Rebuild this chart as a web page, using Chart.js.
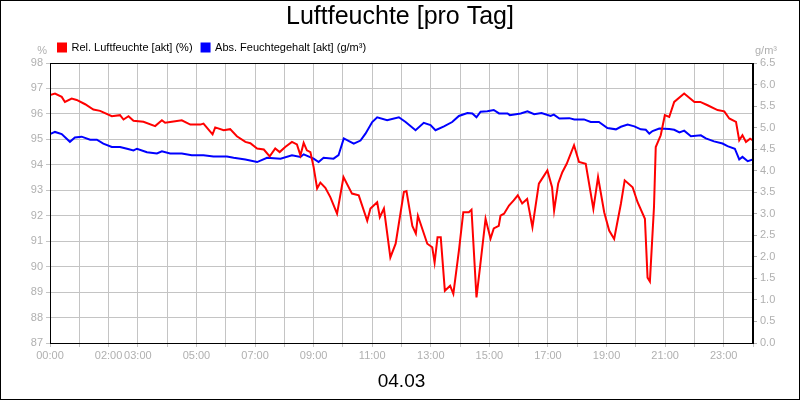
<!DOCTYPE html>
<html>
<head>
<meta charset="utf-8">
<script src="https://cdn.jsdelivr.net/npm/chart.js@4/dist/chart.umd.min.js"></script>
<style>
body{margin:0;background:#fff;}
#box{width:800px;height:400px;box-sizing:border-box;border:1px solid #000;}
</style>
</head>
<body>
<div id="box"><canvas id="humChart" width="798" height="398"></canvas></div>
<script>
// hours of the day with a label on the x axis
const labelHours = [0, 2, 3, 5, 7, 9, 11, 13, 15, 17, 19, 21, 23];

// relative humidity (%), left axis
const relTimes = [0,0.17,0.4,0.51,0.74,0.91,1.2,1.48,1.71,2.11,2.39,2.51,2.68,2.85,3.19,3.59,3.82,3.93,4.16,4.5,4.79,5.13,5.24,5.55,5.64,5.93,6.15,6.38,6.67,6.84,7.07,7.3,7.5,7.69,7.84,8.03,8.26,8.43,8.55,8.66,8.77,8.89,9.0,9.12,9.23,9.4,9.57,9.8,10.02,10.31,10.54,10.83,10.94,11.17,11.26,11.4,11.62,11.8,12.08,12.17,12.37,12.49,12.56,12.88,13.05,13.13,13.23,13.34,13.48,13.66,13.77,13.96,14.11,14.3,14.39,14.56,14.68,14.87,15.04,15.15,15.32,15.38,15.5,15.67,15.83,15.97,16.12,16.29,16.47,16.69,16.98,17.14,17.21,17.35,17.49,17.64,17.89,18.06,18.29,18.55,18.71,18.92,19.09,19.26,19.49,19.62,19.89,20.06,20.31,20.4,20.48,20.62,20.68,20.85,20.99,21.14,21.31,21.65,22.0,22.2,22.45,22.79,23.02,23.19,23.42,23.53,23.64,23.76,23.9,24];
const relValues = [96.74,96.8,96.67,96.47,96.6,96.55,96.38,96.17,96.12,95.91,95.95,95.78,95.91,95.73,95.69,95.52,95.75,95.65,95.69,95.75,95.58,95.58,95.62,95.2,95.47,95.36,95.4,95.12,94.9,94.85,94.64,94.6,94.33,94.64,94.5,94.7,94.9,94.8,94.37,94.86,94.57,94.5,93.91,93.07,93.3,93.1,92.73,92.08,93.52,92.87,92.8,91.8,92.28,92.53,91.94,92.28,90.36,90.9,92.93,92.97,91.6,91.3,92.0,90.9,90.76,90.16,91.15,91.15,89.05,89.25,88.93,90.63,92.14,92.14,92.24,88.79,89.97,91.88,91.1,91.5,91.6,92.0,92.08,92.4,92.6,92.8,92.48,92.66,91.55,93.26,93.78,93.12,92.2,93.27,93.71,94.04,94.77,94.11,94.04,92.27,93.52,92.14,91.42,91.09,92.47,93.39,93.12,92.53,91.88,89.57,89.42,92.34,94.7,95.16,95.95,95.88,96.47,96.8,96.47,96.47,96.34,96.15,96.1,95.82,95.69,94.96,95.16,94.9,95.03,94.96];

// absolute humidity (g/m³), right axis
const absTimes = [0,0.17,0.4,0.68,0.85,1.08,1.37,1.6,1.82,2.11,2.39,2.63,2.85,2.97,3.31,3.65,3.82,4.1,4.5,4.84,5.24,5.58,6.04,6.27,6.67,7.07,7.41,7.87,8.26,8.55,8.66,9.0,9.17,9.34,9.68,9.85,10.03,10.37,10.6,10.77,11.0,11.17,11.51,11.91,12.14,12.48,12.76,12.99,13.16,13.45,13.73,13.96,14.25,14.42,14.56,14.7,14.93,15.15,15.33,15.62,15.7,16.07,16.3,16.53,16.78,17.09,17.2,17.39,17.73,17.9,18.23,18.46,18.74,19.03,19.32,19.49,19.72,19.95,20.17,20.34,20.46,20.57,20.8,21.14,21.31,21.49,21.65,21.88,22.22,22.39,22.67,22.96,23.13,23.38,23.53,23.64,23.82,24];
const absValues = [4.85,4.9,4.85,4.67,4.77,4.79,4.72,4.72,4.63,4.55,4.55,4.51,4.47,4.51,4.43,4.4,4.45,4.4,4.4,4.36,4.36,4.33,4.33,4.3,4.26,4.2,4.3,4.28,4.36,4.32,4.38,4.28,4.2,4.3,4.28,4.36,4.75,4.63,4.7,4.86,5.13,5.24,5.17,5.24,5.13,4.94,5.11,5.06,4.94,5.03,5.13,5.27,5.34,5.33,5.24,5.37,5.38,5.41,5.33,5.33,5.29,5.33,5.38,5.31,5.34,5.27,5.3,5.21,5.22,5.19,5.19,5.13,5.13,4.99,4.96,5.02,5.07,5.03,4.96,4.95,4.86,4.92,4.98,4.97,4.95,4.89,4.93,4.8,4.82,4.75,4.68,4.63,4.57,4.51,4.26,4.32,4.22,4.26];

const toPoints = (xs, ys) => xs.map((x, i) => ({x: x, y: ys[i]}));
const hh = h => String(h).padStart(2, '0') + ':00';
const grey = '#b0b0b0';
const font = {family: 'Liberation Sans, Arial, sans-serif', size: 11};

// axis unit captions above the two y axes and the plot frame
const extras = {
    id: 'extras',
    afterLayout(chart){
        chart.legend.left += 48;   // legend starts over the plot, not at the edge
    },
    afterDraw(chart){
        const c = chart.ctx, a = chart.chartArea;
        c.save();
        c.font = '11px Liberation Sans, Arial, sans-serif';
        c.fillStyle = grey;
        c.textAlign = 'right';
        c.fillText('%', a.left - 3, a.top - 12);
        c.textAlign = 'left';
        c.fillText('g/m³', a.right + 2, a.top - 12);
        c.strokeStyle = '#000';
        c.lineWidth = 1;
        c.strokeRect(a.left + 0.5, a.top + 0.5, a.right - a.left - 1, a.bottom - a.top);
        c.restore();
    }
};

new Chart(document.getElementById('humChart'), {
    type: 'line',
    data: {
        datasets: [{
            label: 'Rel. Luftfeuchte [akt] (%)',
            data: toPoints(relTimes, relValues),
            borderColor: '#ff0000',
            backgroundColor: '#ff0000',
            borderWidth: 2,
            pointRadius: 0,
            yAxisID: 'y'
        }, {
            label: 'Abs. Feuchtegehalt [akt] (g/m³)',
            data: toPoints(absTimes, absValues),
            borderColor: '#0000ff',
            backgroundColor: '#0000ff',
            borderWidth: 2,
            pointRadius: 0,
            yAxisID: 'y1'
        }]
    },
    options: {
        responsive: false,
        animation: false,
        layout: {padding: {top: 1, right: 0, left: 0, bottom: 2}},
        plugins: {
            title: {
                display: true,
                text: 'Luftfeuchte [pro Tag]',
                color: '#000',
                font: {family: 'Liberation Sans, Arial, sans-serif', size: 25, weight: 'normal'},
                padding: {top: 0, bottom: 1}
            },
            legend: {
                align: 'start',
                labels: {
                    boxWidth: 8, boxHeight: 8, color: '#000', padding: 9,
                    font: font
                }
            },
            tooltip: {enabled: false}
        },
        scales: {
            x: {
                type: 'linear', min: 0, max: 24,
                afterBuildTicks: s => { s.ticks = Array.from({length: 25}, (_, i) => ({value: i})); },
                ticks: {
                    autoSkip: false, maxRotation: 0, color: grey, font: font, padding: 2,
                    callback: v => labelHours.includes(v) ? hh(v) : ''
                },
                grid: {color: '#c4c4c4', tickLength: 4},
                border: {color: '#000'},
                title: {display: true, text: '04.03', color: '#000',
                    font: {family: 'Liberation Sans, Arial, sans-serif', size: 19}, padding: {top: 6}}
            },
            y: {
                position: 'left', min: 87, max: 98,
                afterFit: s => { s.width = 49; },
                ticks: {stepSize: 1, color: grey, font: font, padding: 3},
                grid: {color: '#c4c4c4', tickLength: 4},
                border: {color: '#000'}
            },
            y1: {
                position: 'right', min: 0, max: 6.5,
                afterFit: s => { s.width = 46; },
                ticks: {stepSize: 0.5, color: grey, font: font, padding: 3, callback: v => v.toFixed(1)},
                grid: {drawOnChartArea: false, color: grey, tickLength: 4},
                border: {color: '#000'}
            }
        }
    },
    plugins: [extras]
});
</script>
</body>
</html>
